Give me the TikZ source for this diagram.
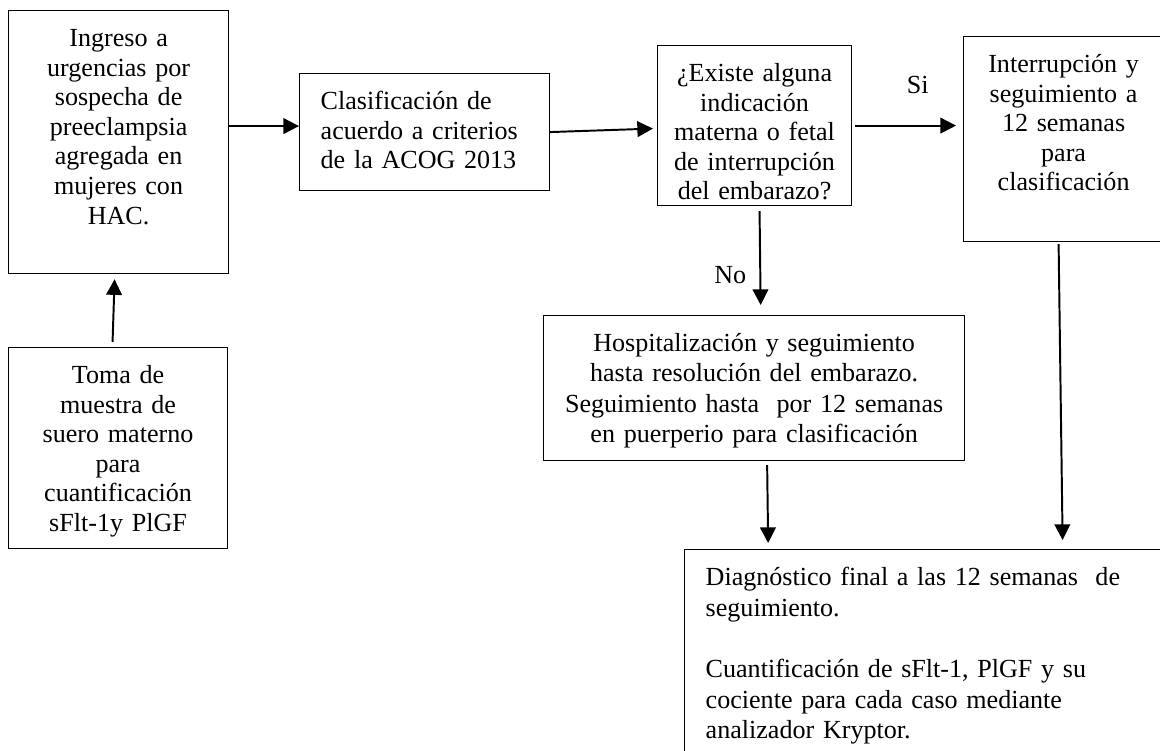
\documentclass[tikz,border=0pt]{standalone}
\usepackage{fontspec}
\setmainfont{Liberation Serif}
\usetikzlibrary{arrows.meta,calc}
\tikzset{
  every picture/.style={line width=0.55pt, >={Triangle[length=7.2pt,width=7.2pt]}},
  every node/.style={font=\fontsize{12pt}{13.6pt}\selectfont},
  % cajas de texto, ancladas en la esquina superior izquierda
  caja/.style={draw, anchor=north west, inner xsep=3pt, inner ysep=0pt,
    text height=16.6pt, align=center},
  cajaizq/.style={caja, inner xsep=9.7pt, align=left},
  % conectores
  flecha/.style={->, line width=0.9pt},
  etiq/.style={inner sep=0pt},
}

\begin{document}
\begin{tikzpicture}[x={(0.46pt,0)}, y={(0,-0.46pt)}]
  \clip (0,0) rectangle (1160,751);
  % columna izquierda
  \node[caja, text width=95.2pt, text depth=104.4pt] (ingreso) at (8,10)
    {Ingreso a\\ urgencias por\\ sospecha de\\ preeclampsia\\ agregada en\\ mujeres con\\ HAC.};
  \node[caja, text width=94.7pt, text depth=75.9pt] (toma) at (8,347)
    {Toma de\\ muestra de\\ suero materno\\ para\\ cuantificación\\ sFlt-1y PlGF};
  % fila superior
  \node[cajaizq, text width=95.6pt, text depth=37.2pt] (clasif) at (299,73)
    {Clasificación de\\ acuerdo a criterios\\ de la ACOG 2013};
  \node[caja, text width=83.2pt, text depth=57pt] (pregunta) at (657,45)
    {¿Existe alguna\\ indicación\\ materna o fetal\\ de interrupción\\ del embarazo?};
  \node[caja, text width=86pt, text depth=77.7pt] (interrup) at (963,36)
    {Interrupción y\\ seguimiento a\\ 12 semanas\\ para\\ clasificación};
  % parte inferior
  \node[caja, text width=187.7pt, text depth=50.1pt, font=\fontsize{12pt}{13.9pt}\selectfont] (hospital) at (543,315)
    {Hospitalización y seguimiento\\ hasta resolución del embarazo.\\ Seguimiento hasta\ \ por 12 semanas\\ en puerperio para clasificación};
  \node[cajaizq, text width=200.9pt, text depth=84.6pt, font=\fontsize{12pt}{14.1pt}\selectfont] (final) at (684,549)
    {Diagnóstico final a las 12 semanas\ \ de\\ seguimiento.\\[14.1pt] Cuantificación de sFlt-1, PlGF y su\\ cociente para cada caso mediante\\ analizador Kryptor.};
  % flechas
  \draw[flecha] ($(toma.north)+(-5.5,-5)$) -- ($(ingreso.south)+(-4,5)$);
  \coordinate (entclasif) at ($(clasif.west)+(0,-6)$);
  \draw[flecha] (ingreso.east |- entclasif) -- (entclasif);
  \draw[flecha] (clasif.east) -- ($(pregunta.west)+(-4,3)$);
  \draw[flecha] ($(pregunta.east)+(3,0)$) -- node[etiq, pos=0.62, above=14pt] {Si}
    ($(pregunta.east -| interrup.west)+(-7,0)$);
  \draw[flecha] ($(pregunta.south)+(5,5)$) -- node[etiq, pos=0.68, left=6pt] {No}
    ($(hospital.north)+(6.5,-10)$);
  \draw[flecha] ($(hospital.south)+(13,4)$) -- ($(hospital.south |- final.north)+(14,-6)$);
  \draw[flecha] ($(interrup.south)+(-5,2)$) -- ($(interrup.south |- final.north)+(-1,-9)$);
\end{tikzpicture}
\end{document}
